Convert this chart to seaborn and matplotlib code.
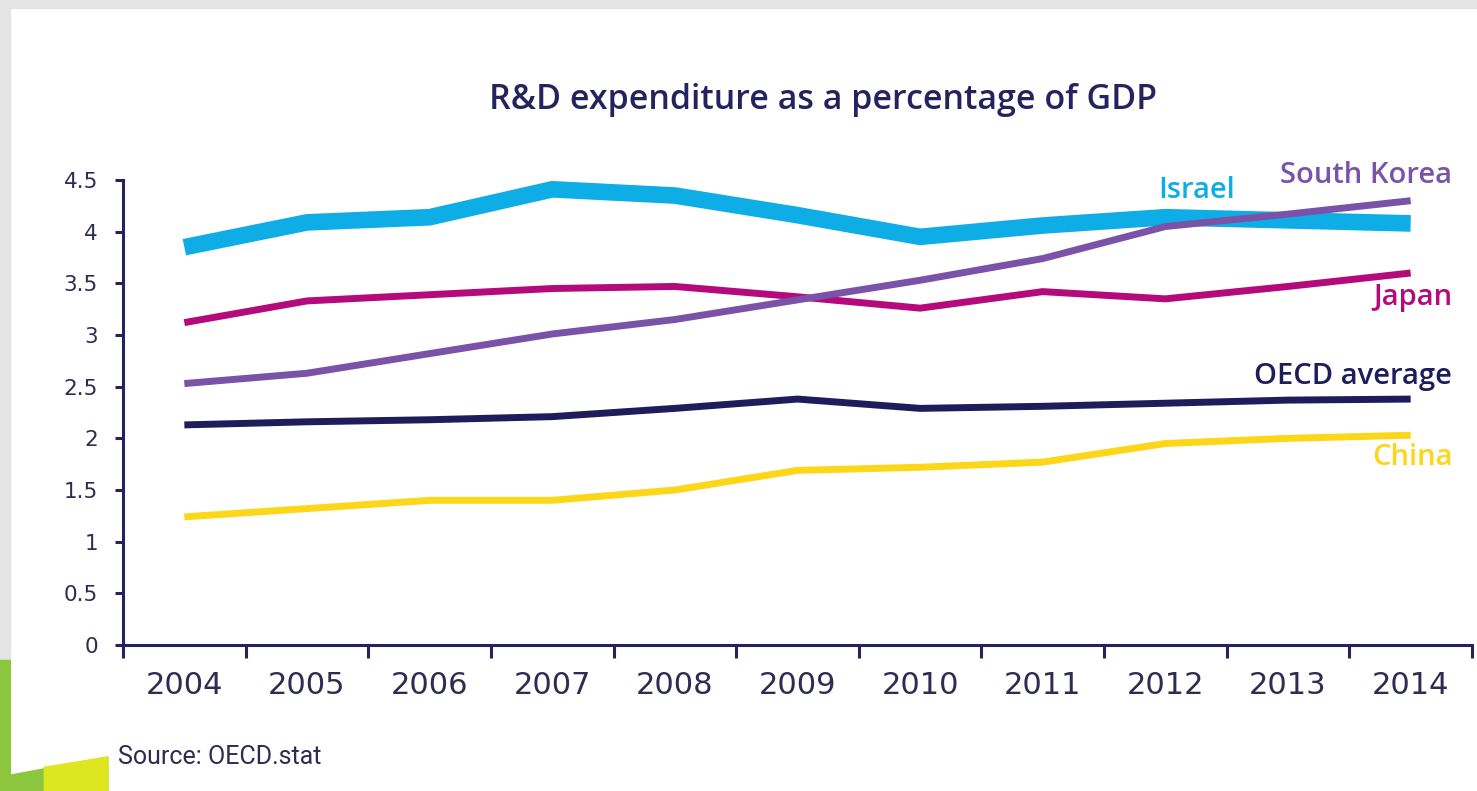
import numpy as np
import pandas as pd
import matplotlib
matplotlib.use('Agg')
import matplotlib.pyplot as plt
import matplotlib.ticker as mticker
from matplotlib.patches import Polygon, Rectangle
import seaborn as sns

# Data (R&D spend, % of GDP)
years = [2004, 2005, 2006, 2007, 2008, 2009, 2010, 2011, 2012, 2013, 2014]
israel = [3.85, 4.09, 4.14, 4.41, 4.35, 4.16, 3.95, 4.06, 4.14, 4.11, 4.08]
japan = [3.12, 3.33, 3.39, 3.45, 3.47, 3.37, 3.26, 3.42, 3.35, 3.47, 3.60]
south_korea = [2.53, 2.63, 2.82, 3.01, 3.15, 3.34, 3.53, 3.74, 4.05, 4.17, 4.30]
oecd = [2.13, 2.16, 2.18, 2.21, 2.29, 2.38, 2.29, 2.31, 2.34, 2.37, 2.38]
china = [1.24, 1.32, 1.40, 1.40, 1.50, 1.69, 1.72, 1.77, 1.95, 2.00, 2.03]

series_names = ['Israel', 'Japan', 'China', 'OECD average', 'South Korea']
series_values = [israel, japan, china, oecd, south_korea]
y_ticks = [0, 0.5, 1, 1.5, 2, 2.5, 3, 3.5, 4, 4.5]

colors = {
    'Israel': '#0fade6',
    'Japan': '#b40a7c',
    'South Korea': '#7a53a8',
    'OECD average': '#1f1c5c',
    'China': '#fcd619',
}
widths = {'Israel': 12, 'Japan': 5, 'South Korea': 5, 'OECD average': 5, 'China': 5}

df = pd.DataFrame({
    'year': np.tile(years, len(series_names)),
    'value': np.concatenate(series_values),
    'series': np.repeat(series_names, len(years)),
})

sns.set_style('ticks')
plt.rcParams['font.family'] = ['Open Sans', 'DejaVu Sans']
navy = '#25235e'
text_col = '#2d2c52'

fig = plt.figure(figsize=(14.77, 7.91), dpi=100)

# background decoration (grey photo edges + green wedge)
fig.patches.append(Rectangle((0, 0.99), 1, 0.01, transform=fig.transFigure, color='#e4e4e4', zorder=0))
fig.patches.append(Rectangle((0, 0.16), 0.007, 0.84, transform=fig.transFigure, color='#e4e4e4', zorder=0))
fig.patches.append(Polygon([(0, 0.165), (0.007, 0.165), (0.007, 0.02), (0.073, 0.043), (0.073, 0.0), (0, 0.0)],
                           closed=True, transform=fig.transFigure, color='#8cc63f', zorder=0))
fig.patches.append(Polygon([(0.03, 0.0), (0.03, 0.03), (0.073, 0.043), (0.073, 0.0)],
                           closed=True, transform=fig.transFigure, color='#dde61f', zorder=0))

ax = fig.add_axes([0.0833, 0.1846, 0.9133, 0.5878])

for name in series_names:
    sub = df[df['series'] == name]
    sns.lineplot(data=sub, x='year', y='value', ax=ax, color=colors[name],
                 linewidth=widths[name], solid_capstyle='butt', solid_joinstyle='miter',
                 legend=False)

ax.set_xlim(years[0] - 0.5, years[-1] + 0.5)
ax.set_ylim(0, 4.5)
ax.set_xlabel('')
ax.set_ylabel('')

# x: ticks between years, labels centred on years
ax.xaxis.set_major_locator(mticker.FixedLocator([y - 0.5 for y in years] + [years[-1] + 0.5]))
ax.xaxis.set_major_formatter(mticker.NullFormatter())
ax.xaxis.set_minor_locator(mticker.FixedLocator(years))
ax.xaxis.set_minor_formatter(mticker.FixedFormatter([str(y) for y in years]))
ax.tick_params(axis='x', which='major', length=9, width=2.2, color=navy)
ax.tick_params(axis='x', which='minor', length=0, pad=19, labelsize=22, labelcolor=text_col)

ax.set_yticks(y_ticks)
ax.yaxis.set_major_formatter(mticker.FuncFormatter(lambda v, p: f'{v:g}'))
ax.tick_params(axis='y', length=6, width=2.2, color=navy, pad=12, labelsize=15.5, labelcolor=text_col)

for lab in ax.get_xticklabels(minor=True) + ax.get_yticklabels():
    lab.set_family(['DejaVu Sans'])

for side in ['top', 'right']:
    ax.spines[side].set_visible(False)
for side in ['left', 'bottom']:
    ax.spines[side].set_color(navy)
    ax.spines[side].set_linewidth(2.2)

# series labels
lab_kw = dict(fontsize=21, fontweight='semibold', ha='right', va='center', clip_on=False)
ax.text(2012.57, 4.40, 'Israel', color=colors['Israel'], **lab_kw)
ax.text(2014.34, 4.54, 'South Korea', color=colors['South Korea'], **lab_kw)
ax.text(2014.34, 3.36, 'Japan', color=colors['Japan'], **lab_kw)
ax.text(2014.34, 2.60, 'OECD average', color=colors['OECD average'], **lab_kw)
ax.text(2014.34, 1.81, 'China', color=colors['China'], **lab_kw)

fig.text(0.557, 0.874, 'R&D expenditure as a percentage of GDP', ha='center', va='center',
         fontsize=24.5, fontweight='semibold', color=navy)
fig.text(0.08, 0.043, 'Source: OECD.stat', ha='left', va='center', fontsize=18, color=text_col,
         family=['Roboto', 'DejaVu Sans'])

fig.savefig('out.png', dpi=100)
